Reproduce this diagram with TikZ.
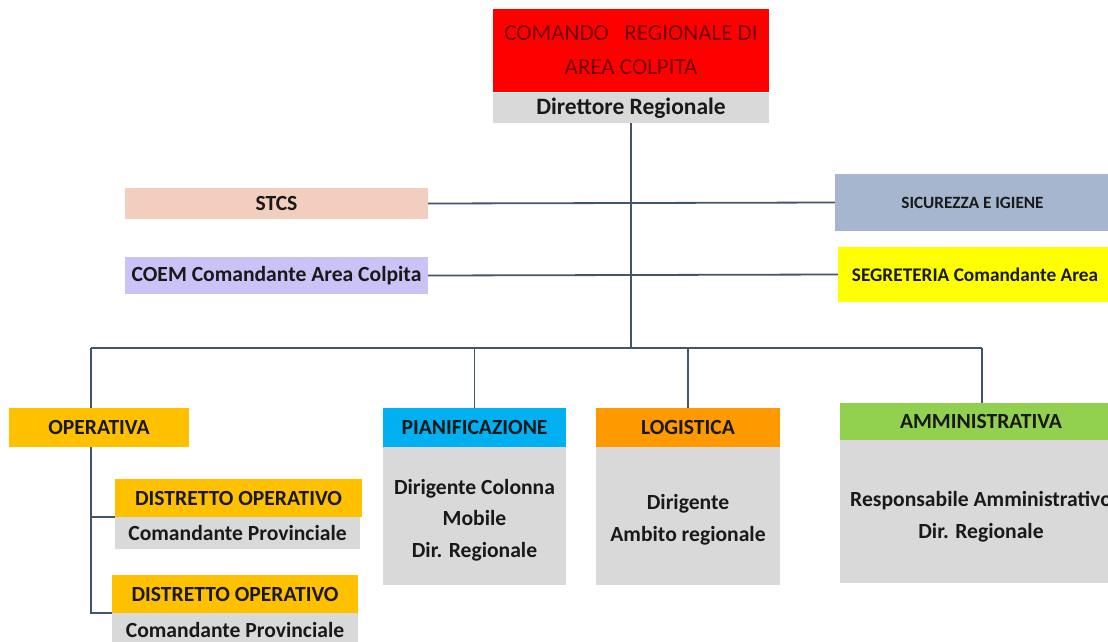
\documentclass[tikz,border=0pt]{standalone}
\usepackage{fontspec}
\setmainfont{Carlito}
\usetikzlibrary{backgrounds}
\definecolor{lineC}{HTML}{44546A}
\definecolor{redC}{HTML}{FF0000}
\definecolor{redT}{HTML}{700000}
\definecolor{grayC}{HTML}{D9D9D9}
\definecolor{stcsC}{HTML}{F2CEBE}
\definecolor{coemC}{HTML}{CBC2F7}
\definecolor{sicC}{HTML}{A6B6CF}
\definecolor{yelC}{HTML}{FFFF00}
\definecolor{opC}{HTML}{FFC000}
\definecolor{piC}{HTML}{00B0F0}
\definecolor{loC}{HTML}{FF9900}
\definecolor{amC}{HTML}{92D050}
\begin{document}
\begin{tikzpicture}[x=1pt,y=-1pt,
  box/.style={inner sep=0pt, outer sep=0pt, align=center, text=black!90,
    font=\bfseries\fontsize{21.6}{31.5}\selectfont},
  conn/.style={draw=lineC, line width=1.8pt}]
\useasboundingbox (0,0) rectangle (1108,641);
\clip (0,0) rectangle (1108,641);
% top
\node[box, fill=redC, text=redT, minimum width=276pt, minimum height=83pt,
  font=\fontsize{23}{34}\selectfont] (cmd) at (631,50) {COMANDO\ \ \ REGIONALE DI\\AREA COLPITA};
\node[box, fill=grayC, minimum width=276pt, minimum height=30pt,
  font=\bfseries\fontsize{23.5}{28}\selectfont] (dir) at (631,108) {Direttore Regionale};
% staff
\node[box, fill=stcsC, minimum width=303pt, minimum height=31pt] (stcs) at (276.5,203.5) {STCS};
\node[box, fill=coemC, minimum width=303pt, minimum height=37pt] (coem) at (276.5,275.5) {COEM Comandante Area Colpita};
\node[box, fill=sicC, minimum width=275pt, minimum height=57pt,
  font=\bfseries\fontsize{17.2}{20}\selectfont] (sic) at (972.5,202.5) {SICUREZZA E IGIENE};
\node[box, fill=yelC, minimum width=274pt, minimum height=55pt,
  font=\bfseries\fontsize{19.3}{23}\selectfont] (seg) at (975,274.5) {SEGRETERIA Comandante Area};
% operativa
\node[box, fill=opC, minimum width=180pt, minimum height=39pt] (oper) at (99,427.5) {OPERATIVA};
\node[box, fill=opC, minimum width=247pt, minimum height=38pt] (d1) at (238.5,498) {DISTRETTO OPERATIVO};
\node[box, fill=grayC, minimum width=245pt, minimum height=32pt] (d1g) at (237.5,533) {Comandante Provinciale};
\node[box, fill=opC, minimum width=246pt, minimum height=38pt] (d2) at (235,594) {DISTRETTO OPERATIVO};
\node[box, fill=grayC, minimum width=246pt, minimum height=34pt] (d2g) at (235,630) {Comandante Provinciale};
% pianificazione
\node[box, fill=piC, minimum width=183pt, minimum height=39pt] (pian) at (474.5,427.5) {PIANIFICAZIONE};
\node[box, fill=grayC, minimum width=183pt, minimum height=138pt,
  label={[box, yshift=-4pt]center:{Dirigente Colonna\\Mobile\\Dir. Regionale}}] (piang) at (474.5,516) {};
% logistica
\node[box, fill=loC, minimum width=184pt, minimum height=39pt] (logi) at (688,427.5) {LOGISTICA};
\node[box, fill=grayC, minimum width=184pt, minimum height=138pt,
  label={[box, yshift=-3.5pt]center:{Dirigente\\Ambito regionale}}] (logg) at (688,516) {};
% amministrativa
\node[box, fill=amC, minimum width=282pt, minimum height=37pt] (amm) at (981,421.5) {AMMINISTRATIVA};
\node[box, fill=grayC, minimum width=282pt, minimum height=143pt,
  label={[box, yshift=-5pt]center:{Responsabile Amministrativo\\Dir. Regionale}}] (ammg) at (981,511.5) {};
% connectors
\coordinate (busL) at (91,348);
\coordinate (busR) at (982,348);
\begin{pgfonlayer}{background}
\fill[white] (0,0) rectangle (1108,641);
\draw[conn] (dir.south) -- (dir.south |- busL);
\draw[conn] (busL) -- (busR);
\draw[conn] (stcs.east) -- (sic.west);
\draw[conn] (coem.east) -- (seg.west);
\draw[conn] (busL) |- (d2.south west);
\draw[conn] (d1.south west) -- (d1.south west -| busL);
\draw[conn] (pian.north) -- (pian.north |- busL);
\draw[conn] (logi.north) -- (logi.north |- busL);
\draw[conn] (busR) -- (amm.north -| busR);
\end{pgfonlayer}
\end{tikzpicture}
\end{document}
